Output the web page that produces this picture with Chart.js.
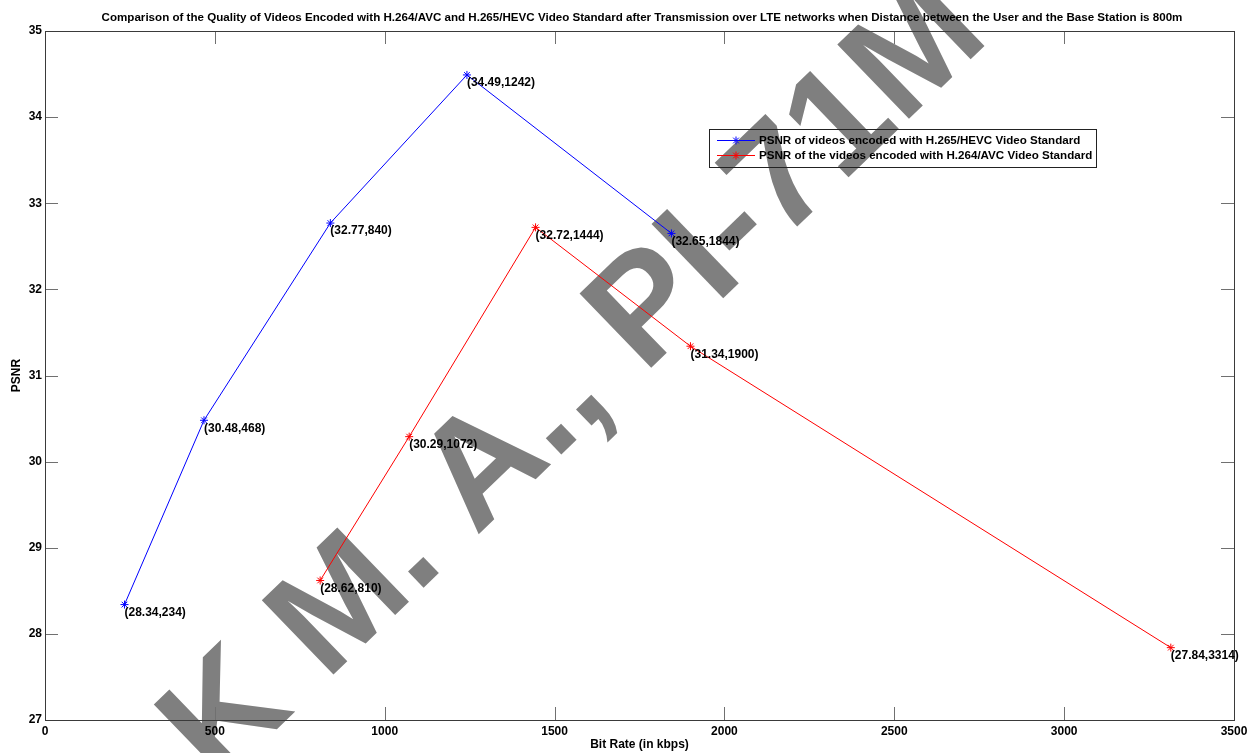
<!DOCTYPE html>
<html>
<head>
<meta charset="utf-8">
<script src="https://cdn.jsdelivr.net/npm/chart.js@4/dist/chart.umd.min.js"></script>
<style>
  html, body { margin: 0; padding: 0; background: #ffffff; }
  #wrap { width: 1260px; height: 753px; }
</style>
</head>
<body>
<div id="wrap"><canvas id="c" width="1260" height="753"></canvas></div>
<script>
// PSNR vs bit rate, distance user - base station 800 m
const bitRateHEVC = [234, 468, 840, 1242, 1844];
const psnrHEVC    = [28.34, 30.48, 32.77, 34.49, 32.65];
const bitRateAVC  = [810, 1072, 1444, 1900, 3314];
const psnrAVC     = [28.62, 30.29, 32.72, 31.34, 27.84];

const xTickValues = [0, 500, 1000, 1500, 2000, 2500, 3000, 3500];
const yTickValues = [27, 28, 29, 30, 31, 32, 33, 34, 35];

const seriesNames = [
  'PSNR of videos encoded with H.265/HEVC Video Standard',
  'PSNR of the videos encoded with H.264/AVC Video Standard'
];
const titleText = 'Comparison of the Quality of Videos Encoded with H.264/AVC and H.265/HEVC Video Standard after Transmission over LTE networks when Distance between the User and the Base Station is 800m';
const xTitle = 'Bit Rate (in kbps)';
const yTitle = 'PSNR';
const stampText = 'K M. A., PI-71M';

const FONT = '"Liberation Sans", Arial, Helvetica, sans-serif';
Chart.defaults.font.family = FONT;

function toPoints(xs, ys) { return xs.map((x, i) => ({ x: x, y: ys[i] })); }

// page background plus the grey diagonal stamp underneath the plot
const backdrop = {
  id: 'backdrop',
  beforeDraw(chart) {
    const ctx = chart.ctx;
    ctx.save();
    ctx.fillStyle = '#ffffff';
    ctx.fillRect(0, 0, chart.width, chart.height);
    ctx.font = 'bold 150px ' + FONT;
    const ang = -44 * Math.PI / 180;
    const lead = ctx.measureText('K ').width + 8;
    const ax = 332, ay = 676;
    const ox = ax - Math.cos(ang) * lead;
    const oy = ay - Math.sin(ang) * lead;
    ctx.translate(ox, oy);
    ctx.rotate(ang);
    ctx.fillStyle = '#7f7f7f';
    ctx.textBaseline = 'alphabetic';
    ctx.textAlign = 'left';
    ctx.fillText(stampText, 0, 0);
    ctx.restore();
  }
};

// box, inward ticks, titles, legend and point annotations
const decorations = {
  id: 'decorations',
  afterDraw(chart) {
    const ctx = chart.ctx;
    const a = chart.chartArea;
    const xs = chart.scales.x, ys = chart.scales.y;
    ctx.save();

    // inward tick marks on all four sides
    ctx.strokeStyle = '#707070';
    ctx.lineWidth = 1;
    ctx.beginPath();
    xs.ticks.forEach(t => {
      const px = Math.round(xs.getPixelForValue(t.value)) + 0.5;
      ctx.moveTo(px, a.bottom); ctx.lineTo(px, a.bottom - 13);
      ctx.moveTo(px, a.top); ctx.lineTo(px, a.top + 13);
    });
    ys.ticks.forEach(t => {
      const py = Math.round(ys.getPixelForValue(t.value)) + 0.5;
      ctx.moveTo(a.left, py); ctx.lineTo(a.left + 13, py);
      ctx.moveTo(a.right, py); ctx.lineTo(a.right - 13, py);
    });
    ctx.stroke();

    // axes box
    ctx.strokeStyle = '#3a3a3a';
    ctx.strokeRect(Math.round(a.left) + 0.5, Math.round(a.top) + 0.5,
                   Math.round(a.right - a.left), Math.round(a.bottom - a.top));

    // title and axis titles
    ctx.fillStyle = '#000000';
    ctx.font = 'bold 11.6px ' + FONT;
    ctx.textAlign = 'center';
    ctx.textBaseline = 'alphabetic';
    ctx.fillText(titleText, 642, 21);
    ctx.font = 'bold 12px ' + FONT;
    ctx.textBaseline = 'middle';
    ctx.fillText(xTitle, (a.left + a.right) / 2, 745);
    ctx.save();
    ctx.translate(17, (a.top + a.bottom) / 2);
    ctx.rotate(-Math.PI / 2);
    ctx.fillText(yTitle, 0, 0);
    ctx.restore();

    // legend
    const lx = 709, ly = 129, lw = 387, lh = 38;
    ctx.strokeStyle = '#222222';
    ctx.strokeRect(lx + 0.5, ly + 0.5, lw, lh);
    ctx.font = 'bold 11.6px ' + FONT;
    chart.data.datasets.forEach((ds, i) => {
      const ry = ly + 11 + i * 15;
      ctx.strokeStyle = ds.borderColor;
      ctx.fillStyle = ds.borderColor;
      ctx.lineWidth = 1;
      ctx.beginPath();
      ctx.moveTo(717, ry + 0.5); ctx.lineTo(755, ry + 0.5);
      ctx.stroke();
      Chart.helpers.drawPoint(ctx, { pointStyle: 'star', radius: 4, borderWidth: 1, rotation: 0 }, 736, ry + 0.5);
      ctx.fillStyle = '#000000';
      ctx.textAlign = 'left';
      ctx.textBaseline = 'middle';
      ctx.fillText(ds.label, 759, ry + 1);
    });

    // "(psnr,bitrate)" annotation next to each point
    ctx.font = 'bold 12px ' + FONT;
    ctx.fillStyle = '#000000';
    ctx.textAlign = 'left';
    ctx.textBaseline = 'middle';
    chart.data.datasets.forEach((ds, i) => {
      const meta = chart.getDatasetMeta(i);
      meta.data.forEach((el, j) => {
        const p = ds.data[j];
        const txt = '(' + p.y.toFixed(2) + ',' + p.x + ')';
        ctx.fillText(txt, el.x, el.y + 8);
      });
    });

    ctx.restore();
  }
};

new Chart(document.getElementById('c'), {
  type: 'scatter',
  data: {
    datasets: [
      {
        label: seriesNames[0],
        data: toPoints(bitRateHEVC, psnrHEVC),
        showLine: true,
        borderColor: '#0000ff',
        backgroundColor: '#0000ff',
        borderWidth: 1,
        pointStyle: 'star',
        pointRadius: 4,
        pointBorderWidth: 1,
        tension: 0
      },
      {
        label: seriesNames[1],
        data: toPoints(bitRateAVC, psnrAVC),
        showLine: true,
        borderColor: '#ff0000',
        backgroundColor: '#ff0000',
        borderWidth: 1,
        pointStyle: 'star',
        pointRadius: 4,
        pointBorderWidth: 1,
        tension: 0
      }
    ]
  },
  options: {
    responsive: false,
    animation: false,
    devicePixelRatio: 1,
    layout: { padding: { top: 31, right: 26, left: 0, bottom: 0 } },
    plugins: {
      legend: { display: false },
      title: { display: false },
      tooltip: { enabled: false }
    },
    scales: {
      x: {
        type: 'linear',
        min: xTickValues[0],
        max: xTickValues[xTickValues.length - 1],
        afterBuildTicks(scale) { scale.ticks = xTickValues.map(v => ({ value: v })); },
        afterFit(scale) { scale.height = 33; },
        grid: { display: false, drawTicks: false },
        border: { display: false },
        ticks: {
          color: '#000000', font: { size: 12, weight: 'bold' }, padding: 4,
          maxRotation: 0, autoSkip: false,
          callback: v => String(v)
        }
      },
      y: {
        type: 'linear',
        min: yTickValues[0],
        max: yTickValues[yTickValues.length - 1],
        afterBuildTicks(scale) { scale.ticks = yTickValues.map(v => ({ value: v })); },
        afterFit(scale) { scale.width = 45; },
        grid: { display: false, drawTicks: false },
        border: { display: false },
        ticks: {
          color: '#000000', font: { size: 12, weight: 'bold' }, padding: 3,
          autoSkip: false, callback: v => String(v)
        }
      }
    }
  },
  plugins: [backdrop, decorations]
});
</script>
</body>
</html>
